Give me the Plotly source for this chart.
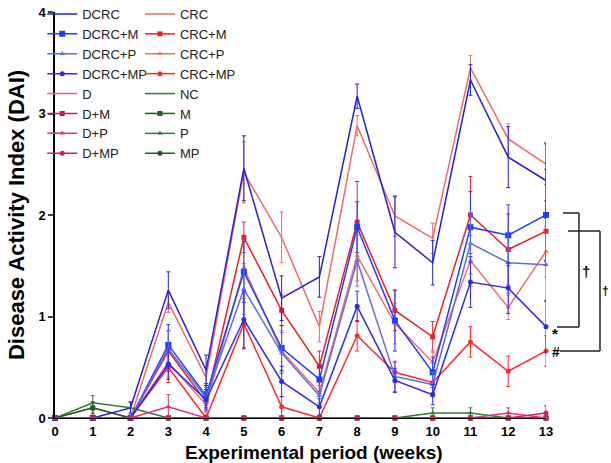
import plotly.graph_objects as go

weeks = list(range(14))
week_labels = [str(w) for w in weeks]

DCRC      = [0, 0, 0.10, 1.26, 0.47, 2.46, 1.18, 1.39, 3.17, 1.83, 1.53, 3.33, 2.57, 2.34]
DCRC_err  = [0, 0, 0.06, 0.18, 0.15, 0.32, 0.22, 0.20, 0.12, 0.35, 0.22, 0.15, 0.30, 0.37]
DCRC_M    = [0, 0, 0, 0.72, 0.22, 1.44, 0.69, 0.38, 1.88, 0.96, 0.45, 1.88, 1.80, 2.00]
DCRC_M_e  = [0, 0, 0, 0.20, 0.12, 0.30, 0.22, 0.12, 0.25, 0.30, 0.15, 0.35, 0.30, 0.45]
DCRC_P    = [0, 0, 0, 0.68, 0.20, 1.27, 0.64, 0.22, 1.55, 0.41, 0.33, 1.72, 1.53, 1.51]
DCRC_P_e  = [0, 0, 0, 0.18, 0.10, 0.25, 0.20, 0.10, 0.25, 0.15, 0.12, 0.30, 0.30, 0.35]
DCRC_MP   = [0, 0, 0, 0.53, 0.18, 0.97, 0.36, 0.11, 1.10, 0.37, 0.23, 1.34, 1.28, 0.90]
DCRC_MP_e = [0, 0, 0, 0.15, 0.10, 0.28, 0.15, 0.08, 0.15, 0.12, 0.10, 0.25, 0.25, 0.25]

CRC       = [0, 0.10, 0, 1.14, 0.40, 2.42, 1.78, 0.90, 2.88, 1.99, 1.77, 3.45, 2.75, 2.50]
CRC_err   = [0, 0.05, 0, 0.10, 0.10, 0.30, 0.25, 0.15, 0.10, 0.20, 0.15, 0.12, 0.15, 0.20]
CRC_M     = [0, 0, 0, 0.66, 0.16, 1.78, 1.06, 0.51, 1.93, 1.06, 0.80, 2.00, 1.66, 1.84]
CRC_M_e   = [0, 0, 0, 0.20, 0.10, 0.15, 0.15, 0.15, 0.40, 0.20, 0.15, 0.38, 0.35, 0.30]
CRC_P     = [0, 0, 0, 0.55, 0.13, 1.48, 0.66, 0.25, 1.60, 0.93, 0.55, 1.55, 1.09, 1.64]
CRC_P_e   = [0, 0, 0, 0.15, 0.10, 0.25, 0.20, 0.10, 0.25, 0.20, 0.12, 0.25, 0.12, 0.25]
CRC_MP    = [0, 0, 0, 0.50, 0, 0.93, 0.11, 0, 0.81, 0.45, 0.35, 0.75, 0.46, 0.66]
CRC_MP_e  = [0, 0, 0, 0.15, 0, 0.25, 0.10, 0, 0.15, 0.10, 0.10, 0.15, 0.15, 0.15]

D         = [0] * 14
D_M       = [0] * 14
D_P       = [0, 0, 0, 0.11, 0, 0, 0, 0, 0, 0, 0, 0, 0.05, 0]
D_P_e     = [0, 0, 0, 0.12, 0, 0, 0, 0, 0, 0, 0, 0, 0.05, 0]
D_MP      = [0, 0, 0, 0, 0, 0, 0, 0, 0, 0, 0, 0, 0, 0.05]
D_MP_e    = [0, 0, 0, 0, 0, 0, 0, 0, 0, 0, 0, 0, 0, 0.07]

NC        = [0, 0.15, 0.10, 0, 0, 0, 0, 0, 0, 0, 0, 0, 0, 0]
NC_e      = [0, 0.07, 0.05, 0, 0, 0, 0, 0, 0, 0, 0, 0, 0, 0]
M         = [0, 0.10, 0, 0, 0, 0, 0, 0, 0, 0, 0, 0, 0, 0]
M_e       = [0, 0.06, 0, 0, 0, 0, 0, 0, 0, 0, 0, 0, 0, 0]
P         = [0, 0, 0, 0, 0, 0, 0, 0, 0, 0, 0.05, 0.05, 0, 0]
P_e       = [0, 0, 0, 0, 0, 0, 0, 0, 0, 0, 0.05, 0.05, 0, 0]
MP        = [0] * 14

FONT = "Liberation Sans, Arial, sans-serif"

# (name, values, errors, color, symbol, marker size, legend)
series = [
    ("CRC", CRC, CRC_err, "#f06a6a", None, 0, "legend2"),
    ("CRC+M", CRC_M, CRC_M_e, "#e8202a", "square", 5, "legend2"),
    ("CRC+P", CRC_P, CRC_P_e, "#f07070", "triangle-up", 5, "legend2"),
    ("CRC+MP", CRC_MP, CRC_MP_e, "#ff2a2a", "circle", 5, "legend2"),
    ("NC", NC, NC_e, "#2e7d32", None, 0, "legend2"),
    ("M", M, M_e, "#1b5e20", "square", 5, "legend2"),
    ("P", P, P_e, "#2e7d32", "triangle-up", 5, "legend2"),
    ("MP", MP, [0] * 14, "#1b5e20", "circle", 5, "legend2"),
    ("DCRC", DCRC, DCRC_err, "#2222d0", None, 0, "legend"),
    ("DCRC+M", DCRC_M, DCRC_M_e, "#1f3dff", "square", 6, "legend"),
    ("DCRC+P", DCRC_P, DCRC_P_e, "#5a6ee8", "triangle-up", 5, "legend"),
    ("DCRC+MP", DCRC_MP, DCRC_MP_e, "#2b2bf0", "circle", 5, "legend"),
    ("D", D, [0] * 14, "#e0608c", None, 0, "legend"),
    ("D+M", D_M, [0] * 14, "#c2185b", "square", 5, "legend"),
    ("D+P", D_P, D_P_e, "#e0307a", "triangle-up", 5, "legend"),
    ("D+MP", D_MP, D_MP_e, "#d81b60", "circle", 5, "legend"),
]

fig = go.Figure()
for name, vals, errs, color, sym, msize, leg in series:
    kw = {}
    if sym:
        kw["mode"] = "lines+markers"
        kw["marker"] = dict(symbol=sym, size=msize, color=color)
    else:
        kw["mode"] = "lines"
    fig.add_trace(go.Scatter(
        x=weeks, y=vals, name=name, legend=leg,
        line=dict(color=color, width=1.5),
        error_y=dict(type="data", array=errs, visible=True, color=color,
                     thickness=1, width=2),
        cliponaxis=False, **kw))

fig.update_layout(
    width=611, height=463,
    margin=dict(l=55, r=65, t=12, b=45, autoexpand=False),
    paper_bgcolor="white", plot_bgcolor="white",
    font=dict(family=FONT, color="black"),
    showlegend=True,
    legend=dict(x=-0.026, y=1.032, xanchor="left", yanchor="top",
                bgcolor="rgba(0,0,0,0)", itemwidth=30,
                font=dict(size=13, color="#222"), tracegroupgap=0),
    legend2=dict(x=0.173, y=1.032, xanchor="left", yanchor="top",
                 bgcolor="rgba(0,0,0,0)", itemwidth=30,
                 font=dict(size=13, color="#222"), tracegroupgap=0),
    xaxis=dict(range=[0, 13], tickvals=weeks, ticktext=week_labels,
               showgrid=False, zeroline=False, showline=True, automargin=False,
               linecolor="black", linewidth=1, ticks="outside", ticklen=1,
               tickcolor="rgba(0,0,0,0)", ticklabeloverflow="allow",
               tickfont=dict(size=13, family=FONT, color="black", weight="bold")),
    yaxis=dict(range=[0, 4], tickvals=[0, 1, 2, 3, 4], automargin=False,
               showgrid=False, zeroline=False, showline=True,
               linecolor="black", linewidth=1.5, ticks="outside",
               ticklen=5, tickwidth=1.5, ticklabeloverflow="allow",
               tickfont=dict(size=13, family=FONT, color="black", weight="bold"),
               title=dict(text="<b>Disease Activity Index (DAI)</b>",
                          font=dict(size=22), standoff=8)),
)

def px_x(px):
    return (px - 55) / 491.0

def px_y(py):
    return (418 - py) / 406.0

fig.add_annotation(text="<b>Experimental period (weeks)</b>", xref="paper", yref="paper",
                   x=px_x(314), y=px_y(452), xanchor="center", yanchor="middle",
                   showarrow=False, font=dict(size=19, color="black", family=FONT))

bracket_line = dict(color="#222", width=1.5)
for (x0, y0, x1, y1) in [(563, 213, 579, 213), (579, 213, 579, 327), (557, 327, 579, 327),
                         (568, 231, 600, 231), (600, 231, 600, 351), (560, 351, 600, 351)]:
    fig.add_shape(type="line", xref="paper", yref="paper",
                  x0=px_x(x0), y0=px_y(y0), x1=px_x(x1), y1=px_y(y1),
                  line=bracket_line)

for (txt, px, py, size) in [("†", 586, 271, 15), ("*", 555, 333, 15), ("#", 556, 352, 14), ("†", 605, 291, 12)]:
    fig.add_annotation(text="<b>%s</b>" % txt, xref="paper", yref="paper",
                       x=px_x(px), y=px_y(py), xanchor="center", yanchor="middle",
                       showarrow=False,
                       font=dict(size=size, color="black", family=FONT))

# remove the browser's default 8px body margin so the figure fills the window
fig.write_html("out.html", config={"displayModeBar": False},
               post_script="document.body.style.margin='0';document.body.style.overflow='hidden';")
